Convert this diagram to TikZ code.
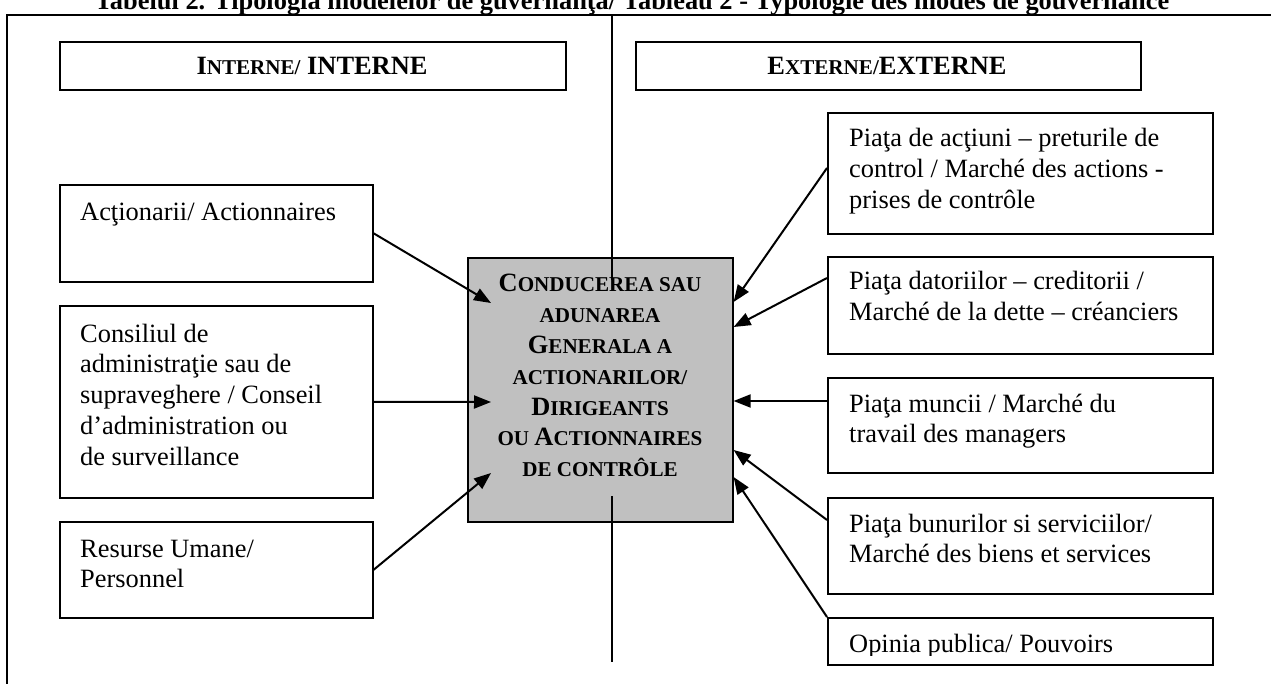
\documentclass[tikz,border=0pt]{standalone}
\usepackage{fontspec}
\setmainfont{Liberation Serif}
\usetikzlibrary{arrows.meta}
\definecolor{boxgray}{RGB}{192,192,192}
\newcommand{\mysc}[1]{{\fontsize{21.1}{30.8}\selectfont #1}}
\begin{document}
\begin{tikzpicture}[x=1pt,y=-1pt]
\tikzset{
  boxn/.style 2 args={draw=black, line width=1.6pt, rectangle, inner sep=0pt, anchor=north west, minimum width=#1, minimum height=#2},
  txt/.style={inner sep=0pt, font=\fontsize{26.4}{30.8}\selectfont, anchor=base west},
  btxt/.style={inner sep=0pt, font=\bfseries\fontsize{26.4}{30.8}\selectfont, anchor=base},
  arr/.style={line width=2pt, -{Triangle[length=17pt,width=13pt]}},
  rule/.style={line width=1.5pt},
}
\useasboundingbox (0,0) rectangle (1271,684);
\fill[white] (0,0) rectangle (1271,684);

% title (cut at top)
\node[btxt] (title) at (632,10) {Tabelul 2. Tipologia modelelor de guvernanţa/ Tableau 2 - Typologie des modes de gouvernance};

% frame
\coordinate (fr) at (1290,15);
\coordinate (ftl) at (7,15);
\coordinate (fbl) at (7,700);
\draw[rule] (fr) -- (ftl) -- (fbl);

% header boxes
\node[boxn={506pt}{48pt}] (HI) at (59,41) {};
\node[boxn={505pt}{48pt}] (HE) at (635,41) {};
\node[btxt] (tHI) at (312,75) {I\mysc{NTERNE/} INTERNE};
\node[btxt] (tHE) at (887,75) {E\mysc{XTERNE/}EXTERNE};

% left boxes
\node[boxn={313pt}{97pt}] (A1) at (59,184) {};
\node[boxn={313pt}{192pt}] (A2) at (59,305) {};
\node[boxn={313pt}{96pt}] (A3) at (59,521) {};
\node[txt] (tA1) at (80,221) {\begin{tabular}[t]{@{}l@{}}Acţionarii/ Actionnaires\end{tabular}};
\node[txt] (tA2) at (80,342) {\begin{tabular}[t]{@{}l@{}}Consiliul de\\administraţie sau de\\supraveghere / Conseil\\d’administration ou\\de surveillance\end{tabular}};
\node[txt] (tA3) at (80,557) {\begin{tabular}[t]{@{}l@{}}Resurse Umane/\\Personnel\end{tabular}};

% centre box
\node[boxn={265pt}{264pt}, fill=boxgray] (C) at (467,257) {};
\node[btxt] (tC) at (600,292) {\begin{tabular}[t]{@{}c@{}}C\mysc{ONDUCEREA SAU}\\\mysc{ADUNAREA}\\G\mysc{ENERALA A}\\\mysc{ACTIONARILOR/}\\D\mysc{IRIGEANTS}\\\mysc{OU }A\mysc{CTIONNAIRES}\\\mysc{DE CONTRÔLE}\end{tabular}};

% right boxes
\node[boxn={385pt}{121pt}] (B1) at (827,112) {};
\node[boxn={385pt}{97pt}] (B2) at (827,256) {};
\node[boxn={385pt}{95pt}] (B3) at (827,377) {};
\node[boxn={385pt}{96pt}] (B4) at (827,497) {};
\node[boxn={385pt}{47pt}] (B5) at (827,617) {};
\node[txt] (tB1) at (849,147) {\begin{tabular}[t]{@{}l@{}}Piaţa de acţiuni – preturile de\\control / Marché des actions -\\prises de contrôle\end{tabular}};
\node[txt] (tB2) at (849,290) {\begin{tabular}[t]{@{}l@{}}Piaţa datoriilor – creditorii /\\Marché de la dette – créanciers\end{tabular}};
\node[txt] (tB3) at (849,412) {\begin{tabular}[t]{@{}l@{}}Piaţa muncii / Marché du\\travail des managers\end{tabular}};
\node[txt] (tB4) at (849,532) {\begin{tabular}[t]{@{}l@{}}Piaţa bunurilor si serviciilor/\\Marché des biens et services\end{tabular}};
\begin{scope}
\clip (828,618) rectangle (1211,655);
\node[txt] (tB5) at (849,652) {Opinia publica/ Pouvoirs};
\end{scope}

% divider (drawn over the centre box)
\coordinate (dTop) at (612,15);
\coordinate (dA) at (612,280);
\coordinate (dB) at (612,496);
\coordinate (dBot) at (612,662);
\draw[rule] (dTop) -- (dA);
\draw[rule] (dB) -- (dBot);

% arrows
\draw[arr] (A1.east) -- ([shift={(24pt,-46pt)}]C.north west);
\draw[arr] (A2.east) -- ([shift={(24pt,-145pt)}]C.north west);
\draw[arr] (A3.east) -- ([shift={(24pt,-216pt)}]C.north west);
\draw[arr] ([yshift=-56pt]B1.north west) -- ([yshift=-45pt]C.north east);
\draw[arr] ([yshift=-22pt]B2.north west) -- ([yshift=-70pt]C.north east);
\draw[arr] ([yshift=-24pt]B3.north west) -- ([yshift=-144pt]C.north east);
\draw[arr] ([yshift=-23pt]B4.north west) -- ([yshift=-193pt]C.north east);
\draw[arr] (B5.north west) -- ([yshift=-220pt]C.north east);
\end{tikzpicture}
\end{document}
